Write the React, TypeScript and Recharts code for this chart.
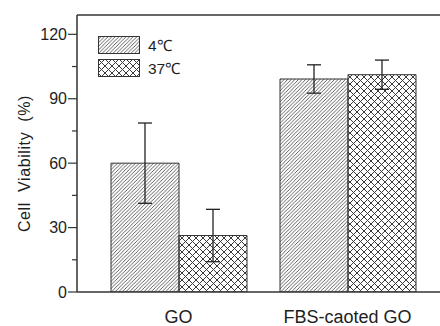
import React from "react";
import {
  BarChart,
  Bar,
  XAxis,
  YAxis,
  ErrorBar,
  ReferenceLine,
} from "recharts";

const categories = ["GO", "FBS-caoted GO"];
const cold = [60, 99.2];
const coldErr = [18.7, 6.6];
const warm = [26.3, 101.2];
const warmErr = [12.2, 6.8];
const yTicks = [0, 15, 30, 45, 60, 75, 90, 105, 120];
const yMax = 129;
const seriesNames = ["4℃", "37℃"];

const data = categories.map((name, i) => ({
  name,
  cold: cold[i],
  coldErr: coldErr[i],
  warm: warm[i],
  warmErr: warmErr[i],
}));

const FONT = "'Liberation Sans', Arial, sans-serif";
const INK = "#1e1e1e";
const LINE = "#333";

function YTick(props: any) {
  const { x, y, payload } = props;
  // x here is the text anchor: axis x - tickSize - tickMargin
  const axisX = x + 10;
  const major = payload.value % 30 === 0;
  return (
    <g>
      <line
        x1={axisX - (major ? 9 : 5)}
        x2={axisX}
        y1={y}
        y2={y}
        stroke={LINE}
        strokeWidth={1.2}
      />
      {major && (
        <text
          x={x}
          y={y}
          textAnchor="end"
          dominantBaseline="central"
          fontSize={16}
          fontFamily={FONT}
          fill={INK}
        >
          {payload.value}
        </text>
      )}
    </g>
  );
}

function YLabel(props: any) {
  const { viewBox } = props;
  const cx = viewBox.x + 24;
  const cy = viewBox.y + viewBox.height / 2 + 10;
  return (
    <text
      x={cx}
      y={cy}
      transform={`rotate(-90, ${cx}, ${cy})`}
      textAnchor="middle"
      dominantBaseline="central"
      fontSize={16}
      letterSpacing={0.6}
      fontFamily={FONT}
      fill={INK}
      style={{ whiteSpace: "pre" }}
    >
      {"Cell  Viability  (%)"}
    </text>
  );
}

function LegendBox() {
  const fills = ["url(#hatch)", "url(#cross)"];
  return (
    <div
      style={{
        position: "absolute",
        left: 98,
        top: 33,
        fontFamily: FONT,
      }}
    >
      {seriesNames.map((label, i) => (
        <div
          key={label}
          style={{ display: "flex", alignItems: "center", height: 23 }}
        >
          <svg width={42} height={18} style={{ display: "block" }}>
            <rect x={0.5} y={0.5} width={41} height={17} fill={fills[i]} stroke={LINE} />
          </svg>
          <span style={{ marginLeft: 8, fontSize: 15.5, color: INK }}>{label}</span>
        </div>
      ))}
    </div>
  );
}

export default function App() {
  return (
    <div
      style={{
        position: "absolute",
        left: 0,
        top: 0,
        width: 440,
        height: 326,
        overflow: "hidden",
        background: "#fff",
      }}
    >
      <BarChart
        width={449}
        height={326}
        data={data}
        margin={{ top: 15, right: 0, bottom: 0, left: 0 }}
        barGap={0}
        barSize={68}
      >
        <defs>
          <pattern id="hatch" patternUnits="userSpaceOnUse" width={3.6} height={3.6}>
            <path
              d="M-0.9,0.9 L0.9,-0.9 M0,3.6 L3.6,0 M2.7,4.5 L4.5,2.7"
              stroke="#3a3a3a"
              strokeWidth={0.8}
            />
          </pattern>
          <pattern id="cross" patternUnits="userSpaceOnUse" width={7} height={7}>
            <path d="M0,0 L7,7 M7,0 L0,7" stroke="#3a3a3a" strokeWidth={1} />
          </pattern>
        </defs>
        <XAxis
          dataKey="name"
          padding={{ left: 17, right: 17 }}
          height={34}
          tickLine={false}
          tickSize={0}
          tickMargin={18}
          axisLine={{ stroke: LINE, strokeWidth: 1.5 }}
          tick={{ fontSize: 18, fontFamily: FONT, fill: INK }}
        />
        <YAxis
          width={77}
          domain={[0, yMax]}
          ticks={yTicks}
          interval={0}
          allowDataOverflow
          tickLine={false}
          tickSize={8}
          tickMargin={2}
          axisLine={{ stroke: LINE, strokeWidth: 1.5 }}
          tick={<YTick />}
          label={<YLabel />}
        />
        <ReferenceLine y={yMax} stroke={LINE} strokeWidth={1.5} />
        <Bar
          dataKey="cold"
          name={seriesNames[0]}
          fill="url(#hatch)"
          stroke={LINE}
          strokeWidth={1}
          isAnimationActive={false}
        >
          <ErrorBar dataKey="coldErr" width={7} stroke="#222" strokeWidth={1.3} />
        </Bar>
        <Bar
          dataKey="warm"
          name={seriesNames[1]}
          fill="url(#cross)"
          stroke={LINE}
          strokeWidth={1}
          isAnimationActive={false}
        >
          <ErrorBar dataKey="warmErr" width={7} stroke="#222" strokeWidth={1.3} />
        </Bar>
      </BarChart>
      <LegendBox />
    </div>
  );
}
